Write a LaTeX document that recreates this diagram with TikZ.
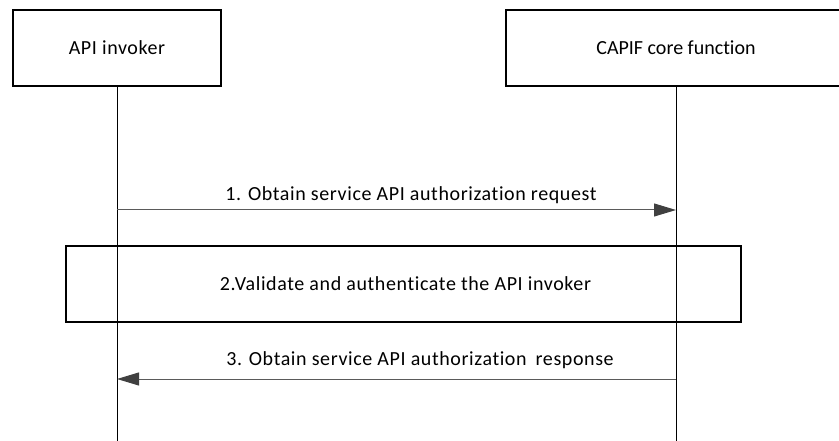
\documentclass[tikz,border=0pt]{standalone}
\usepackage{fontspec}
\setmainfont{Carlito}[LetterSpace=3.0, Ligatures=NoCommon]
\usetikzlibrary{arrows.meta,positioning}

\definecolor{msgline}{RGB}{90,90,90}
\definecolor{msghead}{RGB}{64,64,64}

\tikzset{
  party/.style={draw=black, line width=1.2pt, minimum height=76pt, inner sep=0pt},
  stepbox/.style={draw=black, line width=1.2pt, minimum width=675pt, minimum height=76pt, inner sep=0pt},
  life/.style={draw=black, line width=1pt},
  msg/.style={draw=msgline, line width=1pt, -{Triangle[length=22pt,width=13pt,fill=msghead,color=msghead]}},
  lbl/.style={inner sep=0pt}
}

\begin{document}
\begin{tikzpicture}[x=1pt, y=-1pt, font=\fontsize{20}{24}\selectfont]
			
			\useasboundingbox (0,0) rectangle (839,441);
			\clip (0,0) rectangle (839,441);
			
			\node[party, minimum width=208pt] (inv) at (117,48) {API invoker};
			\node[party, minimum width=340pt] (ccf) at (676,48) {\addfontfeatures{LetterSpace=0.0, Ligatures=NoCommon}CAPIF core function};
			
			\coordinate (invend) at (117,441);
			\coordinate (ccfend) at (676,441);
			
			\draw[life] (inv.south) -- (invend);
			\draw[life] (ccf.south) -- (ccfend);
			
			% step 1
			\coordinate (req0) at (117,210);
			\coordinate (req1) at (676,210);
			\draw[msg] (req0) -- (req1);
			\node[lbl] (reqtxt) at (411,195) {1. Obtain service API authorization request};
			
			% step 2
			\node[stepbox] (val) at (403.5,284) {\hspace*{4pt}2.Validate and authenticate the API invoker};
			
			% step 3
			\coordinate (rsp0) at (676,379);
			\coordinate (rsp1) at (117,379);
			\draw[msg] (rsp0) -- (rsp1);
			\node[lbl] (rsptxt) at (420,360) {3. Obtain service API authorization\hspace{9pt}response};
			
\end{tikzpicture}
\end{document}
